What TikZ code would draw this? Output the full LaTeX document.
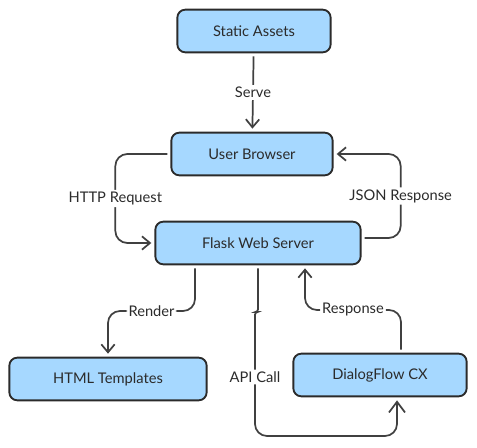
\documentclass[tikz,border=0pt]{standalone}
\usepackage{fontspec}
\setmainfont{Lato}
\usetikzlibrary{arrows.meta}
\definecolor{boxblue}{HTML}{A6D8FF}
\definecolor{ink}{HTML}{2B2B2B}
\begin{document}
\begin{tikzpicture}[x=0.75pt,y=-0.75pt,inner sep=0pt,
block/.style={draw=ink,fill=boxblue,rectangle,rounded corners=6pt,line width=1.4pt,minimum height=32pt,outer sep=3pt,text=ink,font=\fontsize{11}{13}\selectfont},
link/.style={draw=ink!90,line width=1.3pt,rounded corners=9pt,-{Straight Barb[length=6pt,width=10pt,line width=1.3pt]}},
lbl/.style={fill=white,inner sep=1.5pt,text=ink,font=\fontsize{11}{13}\selectfont}]
\useasboundingbox (0,0) rectangle (477,448);
\draw (254,31) node[block,minimum width=115pt] (assets) {Static Assets};
\draw (252,154) node[block,minimum width=121pt] (browser) {User Browser};
\draw (258,243) node[block,minimum width=154pt] (flask) {Flask Web Server};
\draw (108,379) node[block,minimum width=148pt] (html) {HTML Templates};
\draw (380,375) node[block,minimum width=130pt] (dialog) {DialogFlow CX};
\draw[link] (assets) -- node[lbl] {Serve} (browser);
\draw[link] (browser.west) -- ++(-52,0) |- node[lbl,pos=0.25] {HTTP Request} (flask.west);
\draw[link] ([yshift=3.75pt]flask.east) -- ++(36,0) |- node[lbl,pos=0.25] {JSON Response} (browser.east);
\draw[link] (flask.south -| 195,0) -- (195,311) -| node[lbl,pos=0.25] {Render} (html.north);
\draw[link,-{Straight Barb[length=8pt,width=12pt,line width=1.3pt]}] (flask.south -| 258,0)
  [rounded corners=2pt] -- (258,312) -- (255,312) -- (255,318)
  [rounded corners=9pt] -- node[lbl] {API Call} (255,436) -| (dialog.south -| 397,0);
\draw[link] (dialog.north -| 401,0) -- (401,310) -| node[lbl,pos=0.25] {Response} (flask.south -| 305,0);
\end{tikzpicture}
\end{document}
